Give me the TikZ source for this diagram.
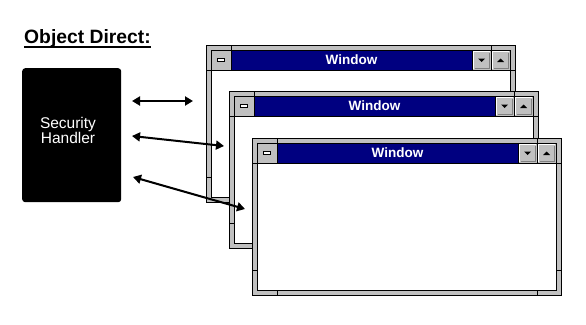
\documentclass[tikz,border=0pt]{standalone}
\usepackage{fontspec}
\setmainfont{Liberation Sans}
\usetikzlibrary{arrows.meta}
\definecolor{wgray}{HTML}{C0C0C0}
\definecolor{wnavy}{HTML}{000080}
\definecolor{wdark}{HTML}{808080}
\tikzset{
  frame/.style={draw=black, fill=wgray, line width=1pt, minimum width=309pt, minimum height=157pt, inner sep=0pt, anchor=north west},
  edge/.style={draw=black, line width=1pt},
  wtitle/.style={text=white, font=\bfseries\fontsize{13.5}{15}\selectfont, inner sep=0pt},
  link/.style={line width=2pt, {Triangle[length=8pt,width=9pt]}-{Triangle[length=8pt,width=9pt]}}
}
\newcommand\winbox[3]{%
\begin{scope}[shift={(#1,#2)}]
  \node[frame] (#3) at (0,0) {};
  \draw[edge, fill=white] (5,5) rectangle (304,152);
  \draw[edge, fill=wgray] (5,5) rectangle (25,25);
  \draw[black, fill=white, line width=0.8pt] (11.5,13) rectangle (18.5,16);
  \draw[edge, fill=wnavy] (25,5) rectangle (266,25);
  \node[wtitle] (#3t) at (145.5,15) {Window};
  \foreach \bx in {266,285}{
    \fill[wgray] (\bx,5) rectangle ++(19,20);
    \draw[white, line width=1pt] (\bx+1.5,23.5) -- (\bx+1.5,6.5) -- (\bx+17.5,6.5);
    \draw[wdark, line width=1pt] (\bx+2.5,23.5) -- (\bx+17.5,23.5) -- (\bx+17.5,7.5);
    \draw[edge] (\bx,5) rectangle ++(19,20);
  }
  \fill (272,13.5) -- (279,13.5) -- (275.5,17) -- cycle;
  \fill (291,17) -- (298,17) -- (294.5,13.5) -- cycle;
  \draw[edge] (25,0) -- (25,5) (285,0) -- (285,5)
              (25,152) -- (25,157) (285,152) -- (285,157)
              (0,25) -- (5,25) (304,25) -- (309,25)
              (0,132) -- (5,132) (304,132) -- (309,132);
\end{scope}}
\begin{document}
\begin{tikzpicture}[x=1pt,y=-1pt]
  \useasboundingbox (0,0) rectangle (586,324);
  % title
  \node[font=\bfseries\fontsize{19.3}{22}\selectfont, inner sep=0pt, anchor=base west] (title) at (24,43) {Object Direct:};
  \draw[line width=2pt] ([yshift=-3.5pt]title.base west) -- ([yshift=-3.5pt]title.base east);
  % security handler
  \node[fill=black, rounded corners=3pt, minimum width=99pt, minimum height=134pt, inner sep=0pt, anchor=north west] (sec) at (22,68) {};
  \node[text=white, font=\fontsize{15.5}{15}\selectfont, align=center, inner sep=0pt] (sectext) at (68,130.5) {Security\\Handler};
  % windows
  \winbox{206}{45}{w1}
  \winbox{229}{91}{w2}
  \winbox{252}{138}{w3}
  % arrows
  \coordinate (a1l) at (132,101);
  \coordinate (a1r) at (193,101);
  \coordinate (a2l) at (132,136);
  \coordinate (a2r) at (224,146);
  \coordinate (a3l) at (133,177);
  \coordinate (a3r) at (245,209);
  \draw[link] (a1l) -- (a1r);
  \draw[link] (a2l) -- (a2r);
  \draw[link] (a3l) -- (a3r);
\end{tikzpicture}
\end{document}
